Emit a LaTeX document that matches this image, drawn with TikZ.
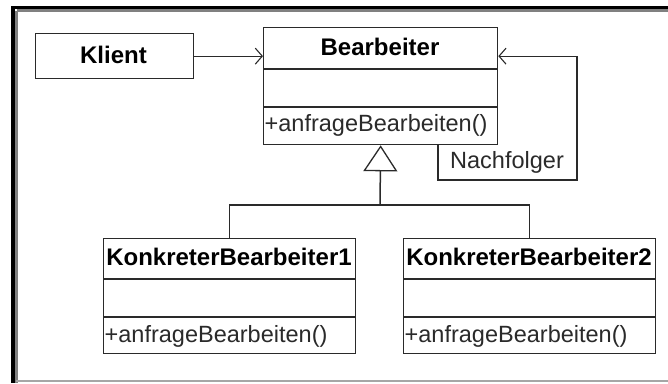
\documentclass[tikz,border=0pt]{standalone}
\usepackage{fontspec}
\setmainfont{Liberation Sans}
\usetikzlibrary{arrows.meta}
\definecolor{ln}{HTML}{2A2A2A}
\tikzset{
  box/.style={draw=ln, line width=1.3bp, fill=white, inner sep=0pt, anchor=north west},
  bname/.style={font=\fontsize{24bp}{28bp}\selectfont\bfseries, text=black, inner sep=0pt, anchor=base},
  meth/.style={font=\fontsize{23.5bp}{28bp}\selectfont, text=ln, inner sep=0pt, anchor=base west},
  divider/.style={draw=ln, line width=1.3bp},
  assoc/.style={draw=ln, line width=1.3bp, -{Straight Barb[length=7bp,width=16bp,line width=1.1bp]}},
  gen/.style={draw=ln, line width=1.5bp, -{Triangle[length=26bp,width=34bp,fill=white,line width=1.3bp]}},
  tree/.style={draw=ln, line width=1.5bp},
}
\begin{document}
\begin{tikzpicture}[x=1bp,y=-1bp]
\useasboundingbox (0,0) rectangle (668,383);
% frame
\draw[black, line width=3bp] (13,7.5) -- (668,7.5);
\draw[black, line width=4bp] (13,6) -- (13,383);
\draw[gray, line width=2.5bp] (16.5,10.5) -- (668,10.5);
\draw[gray, line width=2.5bp] (16.5,10.5) -- (16.5,383);
\draw[gray!70, line width=2bp] (16,381) -- (668,381);

% Klient
\node[box, minimum width=158bp, minimum height=45bp] (K) at (35,33) {};
\node[bname] (Kt) at (113.5,63) {Klient};

% Bearbeiter
\node[box, minimum width=234bp, minimum height=117bp] (B) at (263,27) {};
\draw[divider] (263,69) -- (497,69);
\draw[divider] (263,107) -- (497,107);
\node[bname] (Bt) at (380,55) {Bearbeiter};
\node[meth] (Bm) at (264.5,131) {+anfrageBearbeiten()};

% KonkreterBearbeiter1
\node[box, minimum width=252bp, minimum height=115bp] (K1) at (103,238) {};
\draw[divider] (103,279) -- (355,279);
\draw[divider] (103,317) -- (355,317);
\node[bname] (K1t) at (229,265) {KonkreterBearbeiter1};
\node[meth] (K1m) at (104.5,342) {+anfrageBearbeiten()};

% KonkreterBearbeiter2
\node[box, minimum width=252bp, minimum height=115bp] (K2) at (403,238) {};
\draw[divider] (403,279) -- (655,279);
\draw[divider] (403,317) -- (655,317);
\node[bname] (K2t) at (529,265) {KonkreterBearbeiter2};
\node[meth] (K2m) at (404.5,342) {+anfrageBearbeiten()};

% association Klient -> Bearbeiter
\draw[assoc] (K.east) -- (K.east -| B.west);

% self association Nachfolger
\coordinate (ls) at (438,144);
\coordinate (lc) at (577,180);
\draw[assoc] (ls) |- (lc) |- (B.east |- K.east);
\node[meth] (nf) at (450,168) {Nachfolger};

% generalization
\coordinate (j) at (380,205);
\draw[tree] (K1.north) |- (j) -| (K2.north);
\draw[gen] (j) -- (B.south);
\end{tikzpicture}
\end{document}
